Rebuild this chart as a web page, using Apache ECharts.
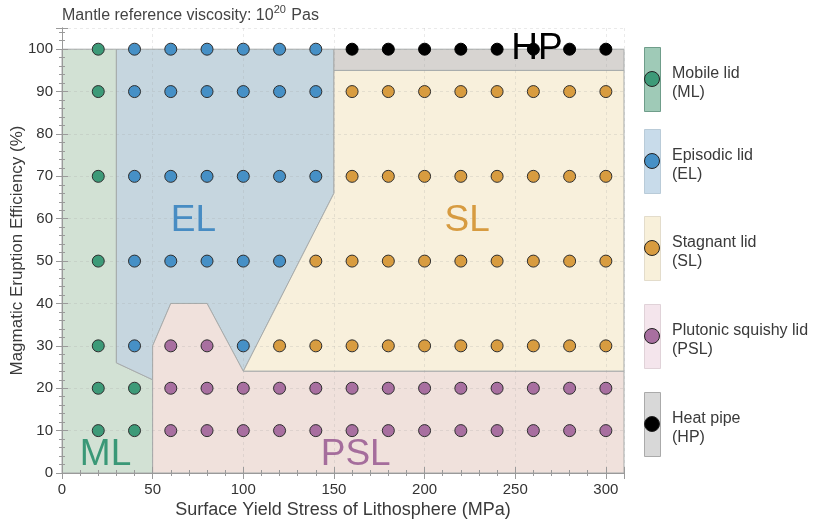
<!DOCTYPE html>
<html>
<head>
<meta charset="utf-8">
<script src="https://cdn.jsdelivr.net/npm/echarts@6/dist/echarts.min.js"></script>
<style>
  html, body { margin: 0; padding: 0; background: #fff; }
  #chart { width: 813px; height: 521px; }
</style>
</head>
<body>
<div id="chart"></div>
<script>
// sample runs: [surface yield stress (MPa), eruption efficiency (%)]
const mlPoints = [[20, 100], [20, 90], [20, 70], [20, 50], [20, 30], [20, 20], [40, 20], [20, 10], [40, 10]];
const elPoints = [
  [40, 100], [60, 100], [80, 100], [100, 100], [120, 100], [140, 100],
  [40, 90], [60, 90], [80, 90], [100, 90], [120, 90], [140, 90],
  [40, 70], [60, 70], [80, 70], [100, 70], [120, 70], [140, 70],
  [40, 50], [60, 50], [80, 50], [100, 50], [120, 50],
  [40, 30], [100, 30]
];
const slPoints = [
  [160, 90], [180, 90], [200, 90], [220, 90], [240, 90], [260, 90], [280, 90], [300, 90],
  [160, 70], [180, 70], [200, 70], [220, 70], [240, 70], [260, 70], [280, 70], [300, 70],
  [140, 50], [160, 50], [180, 50], [200, 50], [220, 50], [240, 50], [260, 50], [280, 50], [300, 50],
  [120, 30], [140, 30], [160, 30], [180, 30], [200, 30], [220, 30], [240, 30], [260, 30], [280, 30], [300, 30]
];
const pslPoints = [
  [60, 30], [80, 30],
  [60, 20], [80, 20], [100, 20], [120, 20], [140, 20], [160, 20], [180, 20], [200, 20], [220, 20], [240, 20], [260, 20], [280, 20], [300, 20],
  [60, 10], [80, 10], [100, 10], [120, 10], [140, 10], [160, 10], [180, 10], [200, 10], [220, 10], [240, 10], [260, 10], [280, 10], [300, 10]
];
const hpPoints = [[160, 100], [180, 100], [200, 100], [220, 100], [240, 100], [260, 100], [280, 100], [300, 100]];

// regime fields (polygon outlines in data units)
const mlRegion = [[0, 0], [0, 100], [30, 100], [30, 26], [50, 22], [50, 0]];
const elRegion = [[30, 100], [150, 100], [150, 66], [100, 24], [80, 40], [60, 40], [50, 30], [50, 22], [30, 26]];
const slRegion = [[150, 95], [310, 95], [310, 24], [100, 24], [150, 66]];
const pslRegion = [[50, 0], [50, 30], [60, 40], [80, 40], [100, 24], [310, 24], [310, 0]];
const hpRegion = [[150, 95], [150, 100], [310, 100], [310, 95]];

// region labels [x, y, text]
const regionLabels = [[72.5, 59.5, 'EL'], [223.5, 59.5, 'SL'], [24, 4.3, 'ML'], [162, 4.3, 'PSL'], [262, 100, 'HP']];

const legendNames = ['Mobile lid', 'Episodic lid', 'Stagnant lid', 'Plutonic squishy lid', 'Heat pipe'];
const legendAbbr = ['ML', 'EL', 'SL', 'PSL', 'HP'];

const pointColors = { ML: '#3d9a78', EL: '#4690c6', SL: '#d89c40', PSL: '#a86fa0', HP: '#000000' };
const regionColors = { ML: '#d2e1d4', EL: '#c6d6df', SL: '#f8f0dc', PSL: '#f0e1dc', HP: '#d7d4d1' };
const labelColors = { ML: '#3a9877', EL: '#478cc3', SL: '#d79b40', PSL: '#a56d9c', HP: '#000000' };
const legendBarColors = ['#9fcab7', '#c8dbea', '#f8f0da', '#f4e5ec', '#d8d8d8'];
const legendBarBorders = ['#6f9d8a', '#b9cbd8', '#e3dccb', '#e0d2d8', '#aaaaaa'];

const FONT = 'Liberation Sans, Arial, sans-serif';

const myChart = echarts.init(document.getElementById('chart'));

function regionSeries(name, poly) {
  return {
    type: 'custom',
    name: name,
    z: 1,
    silent: true,
    data: [0],
    renderItem: function (params, api) {
      return {
        type: 'polygon',
        shape: { points: poly.map((p) => api.coord(p)) },
        style: { fill: regionColors[name], stroke: '#a7abab', lineWidth: 1 }
      };
    }
  };
}

function pointSeries(name, pts) {
  return {
    type: 'scatter',
    name: name,
    z: 5,
    symbolSize: 12,
    data: pts,
    itemStyle: { color: pointColors[name], borderColor: name === 'HP' ? '#000' : '#2e2e2e', borderWidth: 1, opacity: 1 }
  };
}

const tickColor = '#9a9a9a';
const gridLine = { show: true, lineStyle: { color: 'rgba(160,160,160,0.22)', type: [3, 3], width: 1 } };
const baseX = { type: 'value', min: 0, max: 310, z: 3 };
const baseY = { type: 'value', min: 0, max: 105, z: 3 };

// legend drawn with graphic elements
const legendTop = [47, 129, 216, 304, 392];
const legendGraphic = [];
legendNames.forEach((n, i) => {
  const y0 = legendTop[i];
  legendGraphic.push({
    type: 'rect', left: 644, top: y0, z: 10,
    shape: { width: 16, height: 64 },
    style: { fill: legendBarColors[i], stroke: legendBarBorders[i], lineWidth: 1 }
  });
  legendGraphic.push({
    type: 'circle', z: 11, x: 652, y: y0 + 32,
    shape: { cx: 0, cy: 0, r: 7.5 },
    style: { fill: pointColors[legendAbbr[i]], stroke: '#222', lineWidth: 1 }
  });
  legendGraphic.push({
    type: 'text', z: 11, x: 672, y: y0 + 36,
    style: {
      text: n + '\n(' + legendAbbr[i] + ')',
      font: '16px ' + FONT, fill: '#3a3a3a', lineHeight: 19,
      verticalAlign: 'middle'
    }
  });
});

myChart.setOption({
  animation: false,
  textStyle: { fontFamily: FONT },
  title: {
    text: '{a|Mantle reference viscosity: 10}{s|20}{a| Pas}',
    left: 62, top: 4, padding: 0,
    textStyle: {
      fontWeight: 'normal',
      rich: {
        a: { fontSize: 16, color: '#444', fontWeight: 'normal', fontFamily: FONT, verticalAlign: 'bottom', lineHeight: 20 },
        s: { fontSize: 11, color: '#444', fontWeight: 'normal', fontFamily: FONT, verticalAlign: 'top', lineHeight: 20, padding: [0, 1, 8, 0] }
      }
    }
  },
  grid: { left: 62, right: 189, top: 28, bottom: 48, containLabel: false, outerBoundsMode: 'none' },
  graphic: legendGraphic,
  xAxis: [
    Object.assign({}, baseX, {
      position: 'bottom', interval: 10,
      name: 'Surface Yield Stress of Lithosphere (MPa)', nameLocation: 'middle', nameGap: 28, nameMoveOverlap: false,
      nameTextStyle: { fontSize: 18, color: '#3a3a3a', fontFamily: FONT },
      axisLine: { show: true, lineStyle: { color: tickColor } },
      axisTick: { inside: true, length: 3, lineStyle: { color: tickColor } },
      axisLabel: { fontSize: 15, color: '#333', margin: 9, formatter: (v) => (v % 50 === 0 ? v : '') },
      splitLine: { show: false }
    }),
    Object.assign({}, baseX, {
      position: 'top', interval: 10,
      axisLine: { show: true, lineStyle: { color: tickColor } },
      axisTick: { inside: true, length: 3, lineStyle: { color: tickColor } },
      axisLabel: { show: false },
      splitLine: { show: false }
    }),
    Object.assign({}, baseX, {
      position: 'bottom', interval: 50,
      axisLine: { show: false },
      axisTick: { inside: true, length: 6, lineStyle: { color: tickColor } },
      axisLabel: { show: false },
      splitLine: gridLine
    }),
    Object.assign({}, baseX, {
      position: 'top', interval: 50,
      axisLine: { show: false },
      axisTick: { inside: true, length: 6, lineStyle: { color: tickColor } },
      axisLabel: { show: false },
      splitLine: { show: false }
    })
  ],
  yAxis: [
    Object.assign({}, baseY, {
      position: 'left', interval: 2,
      name: 'Magmatic Eruption Efficiency (%)', nameLocation: 'middle', nameGap: 36, nameMoveOverlap: false,
      nameTextStyle: { fontSize: 17, color: '#3a3a3a', fontFamily: FONT },
      axisLine: { show: true, lineStyle: { color: tickColor } },
      axisTick: { inside: true, length: 3, lineStyle: { color: tickColor } },
      axisLabel: { fontSize: 15, color: '#333', margin: 9, formatter: (v) => (v % 10 === 0 && v <= 100 ? v : '') },
      splitLine: { show: false }
    }),
    Object.assign({}, baseY, {
      position: 'right', interval: 2,
      axisLine: { show: true, lineStyle: { color: tickColor } },
      axisTick: { inside: true, length: 3, lineStyle: { color: tickColor } },
      axisLabel: { show: false },
      splitLine: { show: false }
    }),
    Object.assign({}, baseY, {
      position: 'left', interval: 10,
      axisLine: { show: false },
      axisTick: { inside: true, length: 6, lineStyle: { color: tickColor } },
      axisLabel: { show: false },
      splitLine: gridLine
    }),
    Object.assign({}, baseY, {
      position: 'right', interval: 10,
      axisLine: { show: false },
      axisTick: { inside: true, length: 6, lineStyle: { color: tickColor } },
      axisLabel: { show: false },
      splitLine: { show: false }
    })
  ],
  series: [
    regionSeries('ML', mlRegion),
    regionSeries('EL', elRegion),
    regionSeries('SL', slRegion),
    regionSeries('PSL', pslRegion),
    regionSeries('HP', hpRegion),
    pointSeries('ML', mlPoints),
    pointSeries('EL', elPoints),
    pointSeries('SL', slPoints),
    pointSeries('PSL', pslPoints),
    pointSeries('HP', hpPoints),
    {
      type: 'scatter',
      z: 6,
      silent: true,
      symbolSize: 0,
      itemStyle: { opacity: 1 },
      data: regionLabels.map((r) => ({
        value: [r[0], r[1]],
        label: { formatter: r[2], color: labelColors[r[2]] }
      })),
      label: { show: true, position: 'inside', fontSize: 37, fontFamily: FONT }
    }
  ]
});
</script>
</body>
</html>
